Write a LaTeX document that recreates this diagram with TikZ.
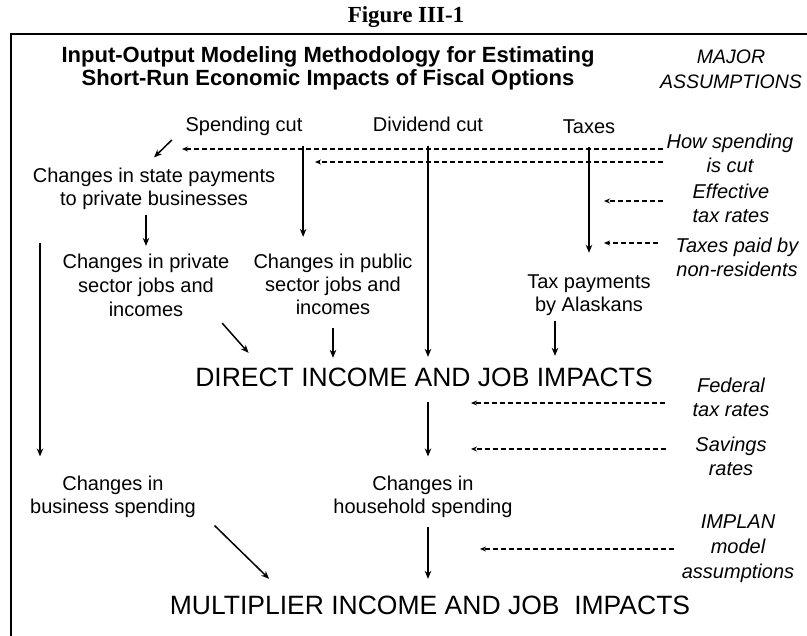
\documentclass[tikz,border=0pt]{standalone}
\usepackage{fontspec}
\setmainfont{Liberation Sans}
\newfontfamily\timesfont{Liberation Serif}
\usetikzlibrary{arrows.meta,positioning,calc}

\begin{document}
\begin{tikzpicture}[->, >={Stealth[length=8pt,width=6.5pt]}, x=1pt, y=-1pt, line width=1.5pt]
\tikzstyle{every node}=[inner sep=0pt, align=center, font=\fontsize{20}{23}\selectfont]
\tikzstyle{note}=[font=\fontsize{20}{24}\selectfont\itshape]
\tikzstyle{impact}=[font=\fontsize{26.5}{30}\selectfont]
\tikzstyle{assume}=[-{Stealth[length=6pt,width=5pt]}, dash pattern=on 5pt off 3pt, line width=1.1pt]
\useasboundingbox (0,0) rectangle (807,636);

% open frame
\draw[-, line width=2pt] (807,34) -- (11,34) -- (11,636);

\node[font=\timesfont\bfseries\fontsize{23}{25}\selectfont] (fig) at (406,17) {Figure III-1};
\node[font=\bfseries\fontsize{22}{23}\selectfont] (title) at (328,68)
  {Input-Output Modeling Methodology for Estimating\\ Short-Run Economic Impacts of Fiscal Options};
\node[note, font=\fontsize{19.5}{25}\selectfont\itshape] (major) at (731,69) {MAJOR\\ ASSUMPTIONS};

% fiscal options
\node[anchor=base] (spend) at (244,132) {Spending cut};
\node[anchor=base] (divid) at (428,132) {Dividend cut};
\node[anchor=base] (taxes) at (589,134) {Taxes};

\node (statepay) at (154,189) {Changes in state payments\\ to private businesses};
\node[font=\fontsize{20}{24}\selectfont] (privjobs) at (146,285) {Changes in private\\ sector jobs and\\ incomes};
\node (pubjobs) at (333,284) {Changes in public\\ sector jobs and\\ incomes};
\node (taxpay) at (589,295) {Tax payments\\ by Alaskans};

\node[impact] (direct) at (424,377) {DIRECT INCOME AND JOB IMPACTS};

\node (busspend) at (113,497) {Changes in\\ business spending};
\node (housespend) at (423,497) {Changes in\\ household spending};

\node[impact] (multi) at (430,605) {MULTIPLIER INCOME AND JOB~ IMPACTS};

% assumptions
\node[note] (howcut) at (730,153) {How spending\\ is cut};
\node[note] (effect) at (731,203) {Effective\\ tax rates};
\node[note] (paidby) at (737,257) {Taxes paid by\\ non-residents};
\node[note] (federal) at (731,397) {Federal\\ tax rates};
\node[note] (savings) at (731,456) {Savings\\ rates};
\node[note, font=\fontsize{20}{25}\selectfont\itshape] (implan) at (738,549) {IMPLAN\\ model\\ assumptions};

% flows
\draw ([shift={(-13,3)}]spend.south west) -- ([yshift=10pt]statepay.north);
\draw[shorten <=9pt, shorten >=16pt] (spend.south east) -- (spend.south east |- pubjobs.north);
\draw[shorten <=4pt, shorten >=7pt] (privjobs.north |- statepay.south) -- (privjobs.north);
\draw[shorten <=13pt, shorten >=10pt] (divid.south) -- (divid.south |- direct.north);
\draw[shorten <=12pt, shorten >=21pt] (taxes.south) -- (taxpay.north);
\draw[shorten <=5pt, shorten >=11pt] ([xshift=-34pt]taxpay.south) -- ([xshift=-34pt]taxpay.south |- direct.north);
\draw ([shift={(-8,6)}]privjobs.south east) -- ([shift={(54,-14)}]direct.north west);
\draw[shorten <=13pt, shorten >=9pt] (pubjobs.south) -- (pubjobs.south |- direct.north);

\coordinate (lft) at (40,243);
\draw[shorten >=19pt] (lft) -- (lft |- busspend.north);
\draw[shorten <=15pt, shorten >=19pt] (direct.south -| divid.south) -- (housespend.north -| divid.south);
\draw[shorten <=8pt, shorten >=16pt] (housespend.south -| divid.south) -- (multi.north -| divid.south);
\draw ([shift={(18,7)}]busspend.south east) -- ([shift={(100,-16)}]multi.north west);

% assumption arrows
\coordinate (cut1) at (182,149);
\coordinate (cut2) at (315,162);
\coordinate (eff) at (604,201);
\coordinate (nonres) at (604,243);
\coordinate (fed) at (471,403);
\coordinate (sav) at (471,449);
\coordinate (imp) at (480,549);
\draw[assume, shorten <=3pt] (howcut.west |- cut1) -- (cut1);
\draw[assume, shorten <=3pt] (howcut.west |- cut2) -- (cut2);
\draw[assume, shorten <=29pt] (effect.west |- eff) -- (eff);
\draw[assume, shorten <=17pt] (paidby.west |- nonres) -- (nonres);
\draw[assume, shorten <=27pt] (federal.west |- fed) -- (fed);
\draw[assume, shorten <=29pt] (savings.west |- sav) -- (sav);
\draw[assume, shorten <=7pt] (implan.west |- imp) -- (imp);
\end{tikzpicture}
\end{document}
